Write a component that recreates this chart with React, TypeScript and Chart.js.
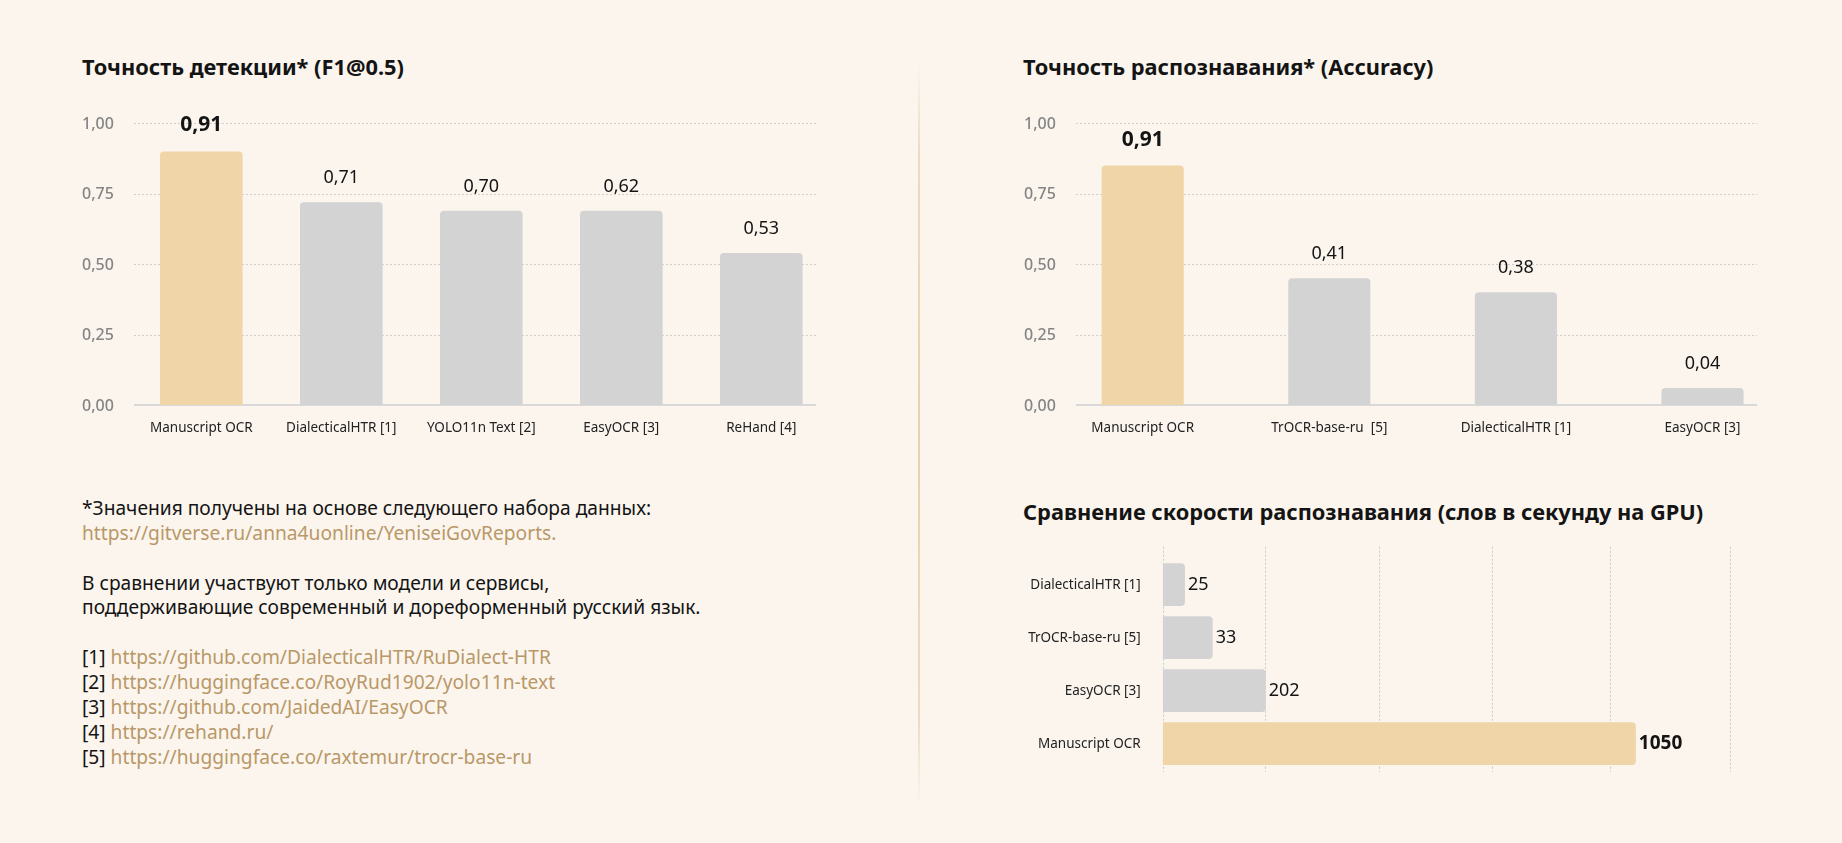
import React, { useEffect, useRef } from "react";
import { Chart, registerables } from "chart.js";

Chart.register(...registerables);

const FONT = "'Noto Sans', sans-serif";
const BG = "#fbf5ee";
const GOLD = "#efd5a7";
const GRAY = "#d3d3d3";
const LINK = "#b99868";
const TEXT = "#141414";

// ---- Detection accuracy (F1@0.5) ----
const detectionCategories = ["Manuscript OCR", "DialecticalHTR [1]", "YOLO11n Text [2]", "EasyOCR [3]", "ReHand [4]"];
const detectionBarHeights = [0.9, 0.72, 0.69, 0.69, 0.54];
const detectionLabels = ["0,91", "0,71", "0,70", "0,62", "0,53"];

// ---- Recognition accuracy ----
const accuracyCategories = ["Manuscript OCR", "TrOCR-base-ru  [5]", "DialecticalHTR [1]", "EasyOCR [3]"];
const accuracyBarHeights = [0.85, 0.45, 0.4, 0.06];
const accuracyLabels = ["0,91", "0,41", "0,38", "0,04"];

// shared y ticks
const yTickValues = [0, 0.25, 0.5, 0.75, 1];
const yTickLabels = ["0,00", "0,25", "0,50", "0,75", "1,00"];

// ---- Speed (words per second on GPU) ----
const speedCategories = ["DialecticalHTR [1]", "TrOCR-base-ru [5]", "EasyOCR [3]", "Manuscript OCR"];
const speedBarLengths = [49, 110, 227, 1042];
const speedLabels = ["25", "33", "202", "1050"];
const speedGridValues = [0, 226, 476, 725, 985, 1250];

const HIGHLIGHT = "Manuscript OCR";

const footnoteLine1 = "*Значения получены на основе следующего набора данных:";
const footnoteDataset = "https://gitverse.ru/anna4uonline/YeniseiGovReports.";
const footnoteLine2 = "В сравнении участвуют только модели и сервисы,";
const footnoteLine3 = "поддерживающие современный и дореформенный русский язык.";
const refNumbers = ["[1]", "[2]", "[3]", "[4]", "[5]"];
const refUrls = [
  "https://github.com/DialecticalHTR/RuDialect-HTR",
  "https://huggingface.co/RoyRud1902/yolo11n-text",
  "https://github.com/JaidedAI/EasyOCR",
  "https://rehand.ru/",
  "https://huggingface.co/raxtemur/trocr-base-ru",
];

const valueLabelPlugin = {
  id: "valueLabels",
  afterDatasetsDraw(chart: any, _args: any, opts: any) {
    const labels: string[] = opts.labels;
    if (!labels) return;
    const ctx = chart.ctx;
    const meta = chart.getDatasetMeta(0);
    ctx.save();
    meta.data.forEach((bar: any, i: number) => {
      const bold = i === opts.boldIndex;
      ctx.font = `${bold ? "bold " : ""}${bold ? opts.boldSize : opts.size}px ${FONT}`;
      ctx.fillStyle = TEXT;
      ctx.textBaseline = "middle";
      if (opts.horizontal) {
        ctx.textAlign = "left";
        ctx.fillText(labels[i], bar.x + opts.offset, bar.y);
      } else {
        ctx.textAlign = "center";
        ctx.fillText(labels[i], bar.x, bar.y - (bold ? opts.boldOffset : opts.offset));
      }
    });
    ctx.restore();
  },
};

const gridPlugin = {
  id: "customGrid",
  beforeDatasetsDraw(chart: any, _args: any, opts: any) {
    if (!opts.values) return;
    const ctx = chart.ctx;
    ctx.save();
    if (opts.horizontal) {
      const xs = chart.scales.x;
      ctx.strokeStyle = "#c9c9c9";
      ctx.lineWidth = 1;
      ctx.setLineDash([2, 2]);
      opts.values.forEach((v: number) => {
        const x = Math.round(xs.getPixelForValue(v)) + 0.5;
        ctx.beginPath();
        ctx.moveTo(x, opts.from);
        ctx.lineTo(x, opts.to);
        ctx.stroke();
      });
    } else {
      const ys = chart.scales.y;
      opts.values.forEach((v: number, i: number) => {
        const y = ys.getPixelForValue(v);
        ctx.beginPath();
        if (v === 0) {
          ctx.setLineDash([]);
          ctx.strokeStyle = "#d9d9d9";
          ctx.lineWidth = 2;
          ctx.moveTo(opts.from, y);
          ctx.lineTo(opts.to, y);
        } else {
          ctx.setLineDash([2, 2]);
          ctx.strokeStyle = "#cfcfcf";
          ctx.lineWidth = 1;
          const yy = Math.round(y) + 0.5;
          ctx.moveTo(opts.from, yy);
          ctx.lineTo(opts.to, yy);
        }
        ctx.stroke();
        // tick label
        if (opts.tickLabels) {
          ctx.setLineDash([]);
          ctx.font = `500 16px ${FONT}`;
          ctx.fillStyle = "#858585";
          ctx.textAlign = "left";
          ctx.textBaseline = "middle";
          ctx.fillText(opts.tickLabels[i], opts.labelX, y + 1);
        }
      });
    }
    ctx.restore();
  },
};

function verticalConfig(
  categories: string[],
  heights: number[],
  labels: string[],
  geom: { padLeft: number; padRight: number; axisWidth: number; gridFrom: number; gridTo: number; barPct: number; labelX: number }
) {
  return {
    type: "bar",
    data: {
      labels: categories,
      datasets: [
        {
          data: heights,
          backgroundColor: categories.map((c) => (c === HIGHLIGHT ? GOLD : GRAY)),
          borderRadius: 4,
          borderSkipped: "start",
          categoryPercentage: 1,
          barPercentage: geom.barPct,
        },
      ],
    },
    options: {
      responsive: false,
      animation: false,
      devicePixelRatio: 1,
      layout: { padding: { left: geom.padLeft, right: geom.padRight, top: 33.3, bottom: 0 } },
      plugins: {
        legend: { display: false },
        tooltip: { enabled: false },
        valueLabels: { labels, boldIndex: 0, size: 18, boldSize: 21, offset: 24, boldOffset: 26 },
        customGrid: {
          values: yTickValues,
          tickLabels: yTickLabels,
          labelX: geom.labelX,
          from: geom.gridFrom,
          to: geom.gridTo,
        },
      },
      scales: {
        x: {
          grid: { display: false, drawTicks: false },
          border: { display: false },
          ticks: {
            color: "#222",
            font: { family: FONT, size: 13.5 },
            padding: 14.6,
            maxRotation: 0,
            autoSkip: false,
          },
          afterFit: (s: any) => {
            s.height = 45;
          },
        },
        y: {
          min: 0,
          max: 1,
          grid: { display: false, drawTicks: false },
          border: { display: false },
          ticks: { display: false, stepSize: 0.25 },
          afterFit: (s: any) => {
            s.width = geom.axisWidth;
          },
        },
      },
    },
    plugins: [gridPlugin, valueLabelPlugin],
  };
}

function speedConfig() {
  return {
    type: "bar",
    data: {
      labels: speedCategories,
      datasets: [
        {
          data: speedBarLengths,
          backgroundColor: speedCategories.map((c) => (c === HIGHLIGHT ? GOLD : GRAY)),
          borderRadius: 4,
          borderSkipped: "start",
          categoryPercentage: 1,
          barPercentage: 0.805,
        },
      ],
    },
    options: {
      indexAxis: "y",
      responsive: false,
      animation: false,
      devicePixelRatio: 1,
      layout: { padding: { left: 0, right: 111.7, top: 28.2, bottom: 19.8 } },
      plugins: {
        legend: { display: false },
        tooltip: { enabled: false },
        valueLabels: { labels: speedLabels, boldIndex: 3, size: 18, boldSize: 19, offset: 3, horizontal: true },
        customGrid: { values: speedGridValues, from: 16.7, to: 241.7, horizontal: true },
      },
      scales: {
        x: {
          display: false,
          min: 0,
          max: 1250,
        },
        y: {
          grid: { display: false, drawTicks: false },
          border: { display: false },
          ticks: {
            color: "#222",
            font: { family: FONT, size: 13.5 },
            padding: 22,
            autoSkip: false,
          },
          afterFit: (s: any) => {
            s.width = 162.7;
            s.paddingTop = 0;
            s.paddingBottom = 0;
          },
        },
      },
    },
    plugins: [gridPlugin, valueLabelPlugin],
  };
}

function ChartBox({ left, top, width, height, make }: { left: number; top: number; width: number; height: number; make: () => any }) {
  const ref = useRef<HTMLCanvasElement | null>(null);
  useEffect(() => {
    if (!ref.current) return;
    const chart = new Chart(ref.current, make());
    return () => chart.destroy();
  }, []);
  return (
    <canvas
      ref={ref}
      width={width}
      height={height}
      style={{ position: "absolute", left, top, width, height, display: "block" }}
    />
  );
}

const titleStyle: React.CSSProperties = {
  position: "absolute",
  fontFamily: FONT,
  fontWeight: 700,
  fontSize: 21.8,
  lineHeight: "30px",
  color: TEXT,
  whiteSpace: "nowrap",
};

export default function App() {
  return (
    <div
      style={{
        position: "fixed",
        left: 0,
        top: 0,
        width: 1842,
        height: 843,
        background: BG,
        overflow: "hidden",
        fontFamily: FONT,
      }}
    >
      <div style={{ ...titleStyle, left: 82, top: 51.7 }}>Точность детекции* (F1@0.5)</div>
      <div style={{ ...titleStyle, left: 1023, top: 51.7 }}>Точность распознавания* (Accuracy)</div>
      <div style={{ ...titleStyle, left: 1023, top: 496.7 }}>Сравнение скорости распознавания (слов в секунду на GPU)</div>

      <ChartBox
        left={60}
        top={90}
        width={800}
        height={360}
        make={() =>
          verticalConfig(detectionCategories, detectionBarHeights, detectionLabels, {
            padLeft: 22,
            padRight: 28.7,
            axisWidth: 49.3,
            gridFrom: 74,
            gridTo: 756,
            barPct: 0.59,
            labelX: 22,
          })
        }
      />
      <ChartBox
        left={1000}
        top={90}
        width={842}
        height={360}
        make={() =>
          verticalConfig(accuracyCategories, accuracyBarHeights, accuracyLabels, {
            padLeft: 24,
            padRight: 46.2,
            axisWidth: 25.4,
            gridFrom: 76,
            gridTo: 757,
            barPct: 0.44,
            labelX: 24,
          })
        }
      />
      <ChartBox left={1000} top={530} width={842} height={260} make={speedConfig} />

      <div
        style={{
          position: "absolute",
          left: 918,
          top: 62,
          width: 2,
          height: 745,
          background:
            "linear-gradient(to bottom, rgba(233,216,184,0) 0%, #ebdcc0 12%, #e6d2ad 50%, #ebdcc0 88%, rgba(233,216,184,0) 100%)",
        }}
      />

      <div
        style={{
          position: "absolute",
          left: 82,
          top: 495.8,
          fontSize: 19.2,
          lineHeight: "24.9px",
          color: TEXT,
          whiteSpace: "nowrap",
        }}
      >
        <div>{footnoteLine1}</div>
        <div style={{ color: LINK }}>{footnoteDataset}</div>
        <div>&nbsp;</div>
        <div>{footnoteLine2}</div>
        <div>{footnoteLine3}</div>
        <div>&nbsp;</div>
        {refNumbers.map((n, i) => (
          <div key={n}>
            {n} <span style={{ color: LINK }}>{refUrls[i]}</span>
          </div>
        ))}
      </div>
    </div>
  );
}
